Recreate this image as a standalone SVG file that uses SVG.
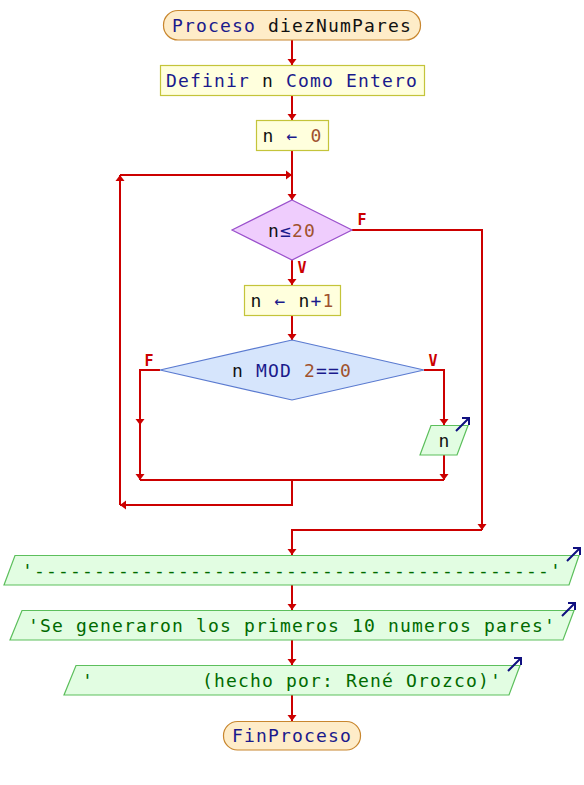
<svg xmlns="http://www.w3.org/2000/svg" width="584" height="785" viewBox="0 0 584 785">
<style>
.t{font-family:"DejaVu Sans Mono","Liberation Mono",monospace;font-size:18px;letter-spacing:1.16px;text-anchor:middle;white-space:pre}
.kw{fill:#1a1a8c}.id{fill:#111111}.num{fill:#a0522d}.out{fill:#006a00}
.term{fill:#feecc8;stroke:#c8862e;stroke-width:1.2}
.proc{fill:#ffffdd;stroke:#c4c43a;stroke-width:1.2}
.d1{fill:#efcdfd;stroke:#9a50cc;stroke-width:1.2}
.d2{fill:#d6e5fc;stroke:#5a7ad0;stroke-width:1.2}
.io{fill:#e2fde2;stroke:#5cbf5c;stroke-width:1.2}
.ic{fill:none;stroke:#101080;stroke-width:2}
.c{fill:none;stroke:#cc0000;stroke-width:2}
.lbl{font-family:"DejaVu Sans Mono","Liberation Mono",monospace;font-size:15px;font-weight:bold;fill:#cc0000;text-anchor:middle}
</style>
<defs>
<marker id="ah" viewBox="-6 -5 6 10" refX="0" refY="0" markerWidth="6" markerHeight="10" markerUnits="userSpaceOnUse" orient="auto">
<path d="M-6,-4.5 L0,0 L-6,4.5 z" fill="#cc0000"/>
</marker>
</defs>
<rect width="584" height="785" fill="#ffffff"/>
<g id="connectors">
<path class="c" d="M292,40 V65" marker-end="url(#ah)"/>
<path class="c" d="M292,95 V120" marker-end="url(#ah)"/>
<path class="c" d="M292,150 V200" marker-end="url(#ah)"/>
<path class="c" d="M120,505 V175" marker-end="url(#ah)"/>
<path class="c" d="M120,175 H292" marker-end="url(#ah)"/>
<path class="c" d="M292,260 V285" marker-end="url(#ah)"/>
<path class="c" d="M292,315 V340" marker-end="url(#ah)"/>
<path class="c" d="M160,370 H140 V425" marker-end="url(#ah)"/>
<path class="c" d="M140,425 V480" marker-end="url(#ah)"/>
<path class="c" d="M424,370 H444 V425" marker-end="url(#ah)"/>
<path class="c" d="M444,455 V480" marker-end="url(#ah)"/>
<path class="c" d="M140,480 H444"/>
<path class="c" d="M292,480 V505 H120" marker-end="url(#ah)"/>
<path class="c" d="M352,230 H482 V530" marker-end="url(#ah)"/>
<path class="c" d="M482,530 H292 V555" marker-end="url(#ah)"/>
<path class="c" d="M292,585 V610" marker-end="url(#ah)"/>
<path class="c" d="M292,640 V665" marker-end="url(#ah)"/>
<path class="c" d="M292,695 V721" marker-end="url(#ah)"/>
<text class="lbl" x="362" y="225">F</text>
<text class="lbl" x="302" y="273">V</text>
<text class="lbl" x="149" y="366">F</text>
<text class="lbl" x="433" y="366">V</text>
</g>
<g id="start">
<rect class="term" x="163.5" y="10.5" width="257" height="29.5" rx="14.5"/>
<text class="t" x="292" y="31.5"><tspan class="kw">Proceso</tspan> <tspan class="id">diezNumPares</tspan></text>
</g>
<g id="definir">
<rect class="proc" x="160.5" y="65.5" width="264" height="30"/>
<text class="t" x="292" y="86.5"><tspan class="kw">Definir</tspan> <tspan class="id">n</tspan> <tspan class="kw">Como Entero</tspan></text>
</g>
<g id="asig0">
<rect class="proc" x="256.5" y="120.5" width="72" height="30"/>
<text class="t" x="292.5" y="141.5"><tspan class="id">n</tspan> <tspan class="kw">←</tspan> <tspan class="num">0</tspan></text>
</g>
<g id="cond1">
<polygon class="d1" points="292,200 352,230 292,260 232,230"/>
<text class="t" x="292" y="236.5"><tspan class="id">n</tspan><tspan class="kw">≤</tspan><tspan class="num">20</tspan></text>
</g>
<g id="incr">
<rect class="proc" x="244.5" y="285.5" width="96" height="30"/>
<text class="t" x="292.5" y="306.5"><tspan class="id">n</tspan> <tspan class="kw">←</tspan> <tspan class="id">n</tspan><tspan class="kw">+</tspan><tspan class="num">1</tspan></text>
</g>
<g id="cond2">
<polygon class="d2" points="292,340 424,370 292,400 160,370"/>
<text class="t" x="292" y="376.5"><tspan class="id">n</tspan> <tspan class="kw">MOD</tspan> <tspan class="num">2</tspan><tspan class="kw">==</tspan><tspan class="num">0</tspan></text>
</g>
<g id="escn">
<polygon class="io" points="431,425.5 468,425.5 457,455 420,455"/>
<text class="t" x="444.5" y="446.5"><tspan class="id">n</tspan></text>
<path class="ic" d="M456,431 L469,418 M462,418 H469 V425"/>
</g>
<g id="out1">
<polygon class="io" points="15,555.5 579,555.5 569,585 4,585"/>
<text class="t out" x="292" y="576.5">'-------------------------------------------'</text>
<path class="ic" d="M567,561 L580,548 M573,548 H580 V555"/>
</g>
<g id="out2">
<polygon class="io" points="22,610.5 574,610.5 563,640 10,640"/>
<text class="t out" x="292" y="631.5">'Se generaron los primeros 10 numeros pares'</text>
<path class="ic" d="M562,616 L575,603 M568,603 H575 V610"/>
</g>
<g id="out3">
<polygon class="io" points="76,665.5 520,665.5 509,695 64,695"/>
<text class="t out" x="292" y="686.5" xml:space="preserve">'         (hecho por: René Orozco)'</text>
<path class="ic" d="M508,671 L521,658 M514,658 H521 V665"/>
</g>
<g id="end">
<rect class="term" x="223.5" y="721.5" width="137" height="28.5" rx="14"/>
<text class="t" x="292" y="742"><tspan class="kw">FinProceso</tspan></text>
</g>
</svg>
